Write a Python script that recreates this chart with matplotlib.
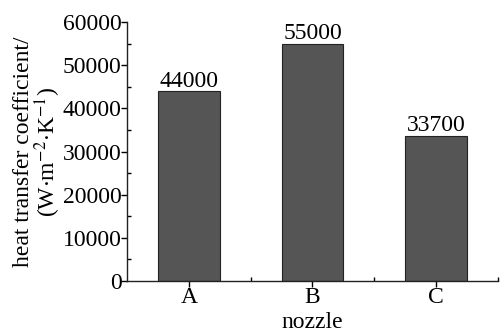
import numpy as np
import matplotlib.pyplot as plt
from matplotlib.ticker import MultipleLocator, FixedLocator

# nozzle heat transfer coefficient
nozzles = ['A', 'B', 'C']
htc = [44000, 55000, 33700]
htc_labels = ['44000', '55000', '33700']

plt.rcParams['font.family'] = ['Liberation Serif', 'DejaVu Serif']
plt.rcParams['mathtext.fontset'] = 'stix'

fig = plt.figure(figsize=(5.02, 3.32), dpi=100)
ax = fig.add_axes([127/502, 1 - 281/332, (498 - 127)/502, (281 - 22)/332])

x = np.arange(len(nozzles))
bars = ax.bar(x, htc, width=0.5, color='#555555', edgecolor='#222222', linewidth=0.8)
for b, lab in zip(bars, htc_labels):
    ax.text(b.get_x() + b.get_width()/2, b.get_height() - 200, lab,
            ha='center', va='bottom', fontsize=17)

ax.set_xlim(-0.5, 2.5)
ax.set_ylim(0, 60000)
ax.set_xticks(x)
ax.set_xticklabels(nozzles)
ax.xaxis.set_minor_locator(FixedLocator([0.5, 1.5, 2.5]))
ax.yaxis.set_major_locator(MultipleLocator(10000))
ax.yaxis.set_minor_locator(MultipleLocator(5000))

ax.spines['top'].set_visible(False)
ax.spines['right'].set_visible(False)
for s in ['left', 'bottom']:
    ax.spines[s].set_linewidth(1.0)
    ax.spines[s].set_color('#222222')

ax.tick_params(axis='both', which='major', direction='out', length=4, width=1,
               labelsize=17, pad=0)
ax.tick_params(axis='both', which='minor', direction='in', length=3, width=1)

ax.set_xlabel('nozzle', fontsize=17, labelpad=3)
ax.set_ylabel('heat transfer coefficient/\n(W$\\cdot$m$^{-2}$$\\cdot$K$^{-1}$)',
              fontsize=17, linespacing=0.9, labelpad=0)

fig.savefig('out.png', dpi=100)
